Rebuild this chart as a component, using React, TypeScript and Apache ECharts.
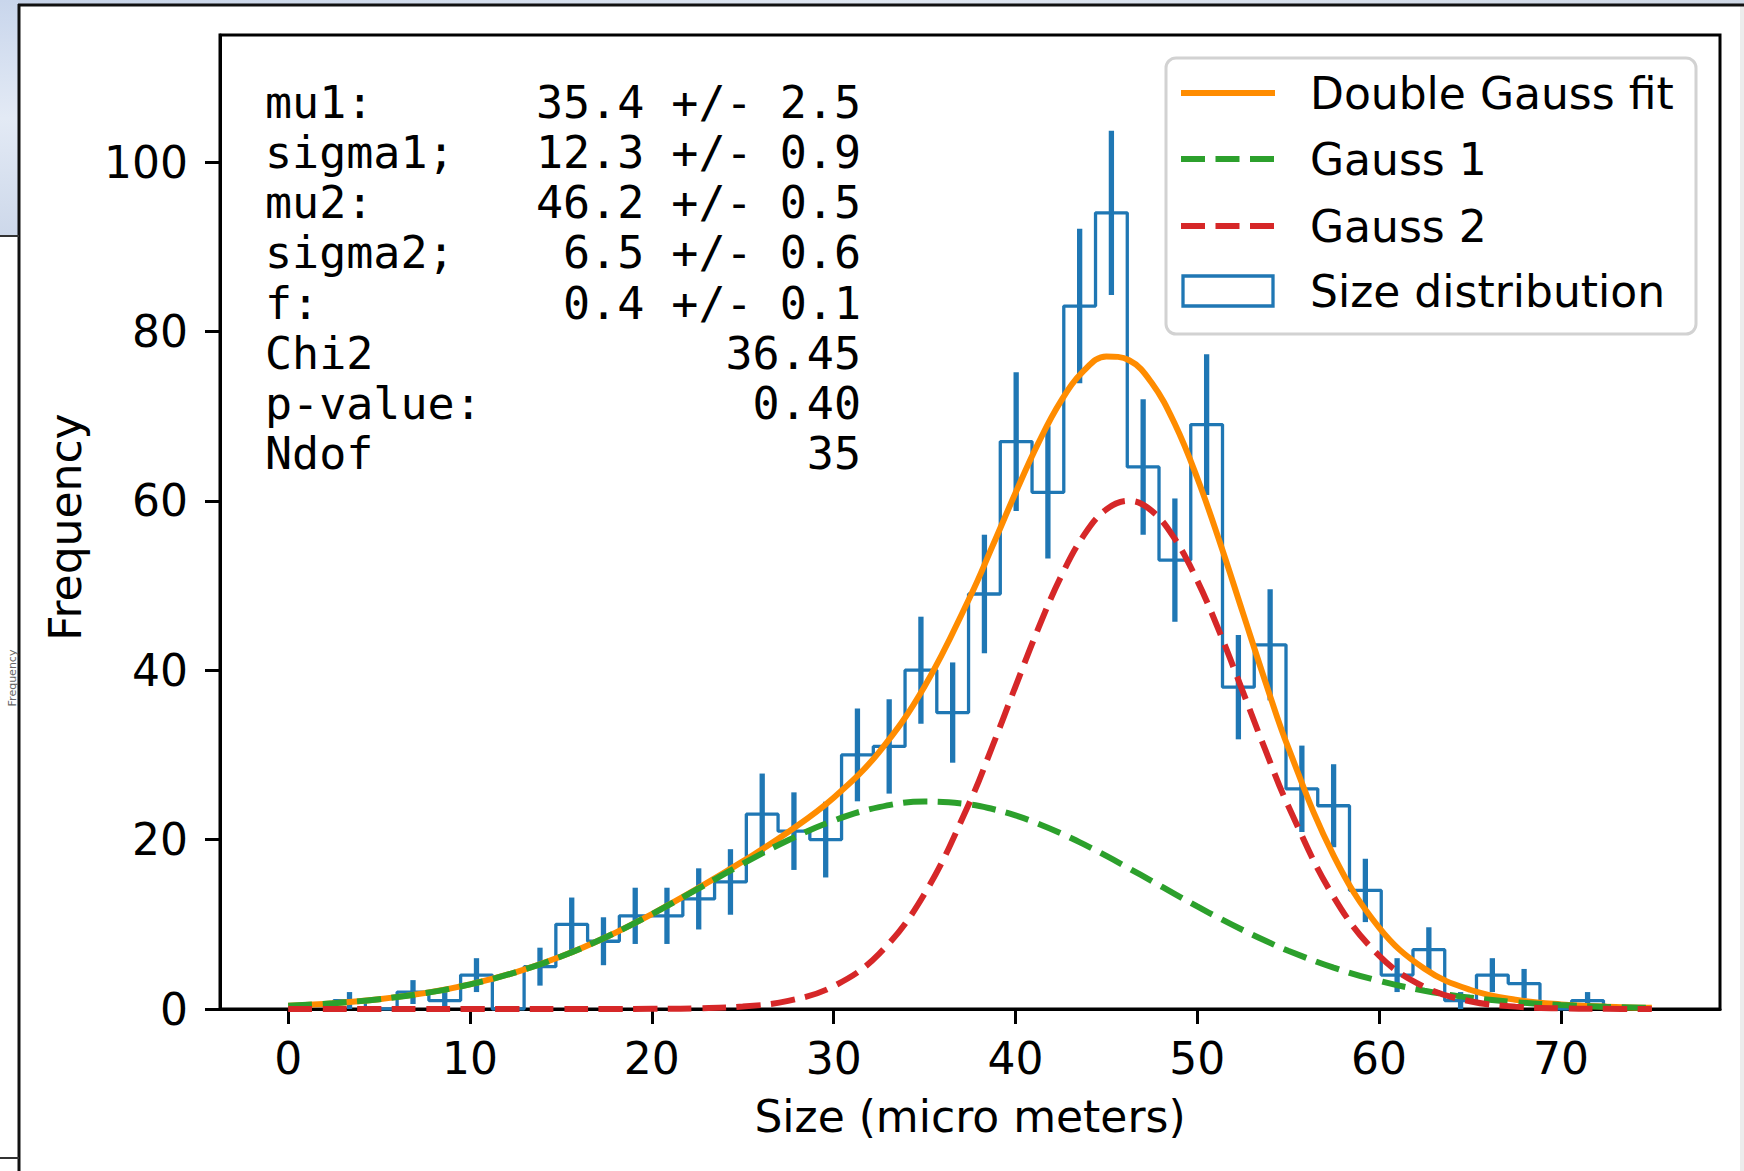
import React, { useEffect, useRef } from "react";
import * as echarts from "echarts";

// ---- Histogram (40 bins), counts and errors ----
const binLow = 2.5;
const binHigh = 72.34;
const binCounts = [1, 0, 2, 1, 4, 0, 5, 10, 8, 11, 11, 13, 15, 23, 21, 20, 30, 31, 40, 35, 49, 67, 61, 83, 94, 64, 53, 69, 38, 43, 26, 24, 14, 4, 7, 1, 4, 3, 0, 1];
const binErrors = [1, 0, 1.41, 1, 2, 0, 2.24, 3.16, 2.83, 3.32, 3.32, 3.61, 3.87, 4.8, 4.58, 4.47, 5.48, 5.57, 6.32, 5.92, 7, 8.19, 7.81, 9.11, 9.7, 8, 7.28, 8.31, 6.16, 6.56, 5.1, 4.9, 3.74, 2, 2.65, 1, 2, 1.73, 0, 1];

// ---- Fit curves, values ----
const curveX = [0, 2.5, 5, 7.5, 10, 12.5, 15, 17.5, 20, 22.5, 25, 27.5, 30, 32.5, 35, 37.5, 38.75, 40, 41.25, 42.5, 43.75, 45, 46.25, 47.5, 48.75, 50, 51.25, 52.5, 53.75, 55, 57.5, 60, 62.5, 65, 67.5, 70, 72.5, 75];
const fitTotal = [0.39, 0.69, 1.16, 1.87, 2.91, 4.33, 6.19, 8.5, 11.21, 14.21, 17.43, 20.89, 24.94, 30.34, 38.08, 48.65, 54.72, 60.92, 66.78, 71.77, 75.34, 77.05, 76.6, 73.91, 69.15, 62.69, 55.05, 46.83, 38.61, 30.88, 18.12, 9.62, 4.75, 2.27, 1.09, 0.54, 0.28, 0.14];
const gauss1 = [0.39, 0.69, 1.16, 1.87, 2.91, 4.33, 6.19, 8.5, 11.19, 14.14, 17.14, 19.93, 22.25, 23.83, 24.49, 24.15, 23.61, 22.85, 21.88, 20.74, 19.46, 18.07, 16.6, 15.1, 13.6, 12.11, 10.68, 9.32, 8.05, 6.88, 4.88, 3.32, 2.16, 1.35, 0.81, 0.47, 0.26, 0.14];
const gauss2 = [0, 0, 0, 0, 0, 0, 0, 0, 0.02, 0.08, 0.29, 0.96, 2.69, 6.51, 13.6, 24.5, 31.11, 38.07, 44.9, 51.03, 55.89, 58.99, 60, 58.81, 55.56, 50.58, 44.37, 37.51, 30.56, 24, 13.24, 6.3, 2.59, 0.92, 0.28, 0.07, 0.02, 0];

// ---- Axes ----
const xTicks = [0, 10, 20, 30, 40, 50, 60, 70];
const xMin = -3.75;
const xMax = 78.75;
const yMax = 115;
const yStep = 20;

// ---- Text box ----
const fitParams = [
  ["mu1:", "35.4", "2.5"],
  ["sigma1;", "12.3", "0.9"],
  ["mu2:", "46.2", "0.5"],
  ["sigma2;", "6.5", "0.6"],
  ["f:", "0.4", "0.1"],
];
const fitSummary = [
  ["Chi2", "36.45"],
  ["p-value:", "0.40"],
  ["Ndof", "35"],
];
const legendNames = ["Double Gauss fit", "Gauss 1", "Gauss 2", "Size distribution"];

const BLUE = "#1f77b4";
const ORANGE = "#ff8c00";
const GREEN = "#2ca02c";
const RED = "#d62728";

export default function App() {
  const ref = useRef<HTMLDivElement>(null);

  useEffect(() => {
    if (!ref.current) return;
    const chart = echarts.init(ref.current, null, { renderer: "svg", width: 1744, height: 1171 });

    const nb = binCounts.length;
    const w = (binHigh - binLow) / nb;
    const edges = binCounts.map((_, i) => binLow + i * w).concat([binHigh]);
    const stepPts: number[][] = [[edges[0], 0]];
    binCounts.forEach((c, i) => {
      stepPts.push([edges[i], c]);
      stepPts.push([edges[i + 1], c]);
    });
    stepPts.push([edges[nb], 0]);
    const errData = binCounts.map((c, i) => [edges[i] + w / 2, c - binErrors[i], c + binErrors[i]]);

    const pairs = (ys: number[]) => curveX.map((x, i) => [x, ys[i]]);

    // text box layout (monospace grid, 22 characters per line)
    const mono = "DejaVu Sans Mono";
    const monoSize = 45;
    const cw = monoSize * 0.602;
    const tx0 = 265;
    const ty0 = 102.3;
    const lh = 50.2;
    const textEls: any[] = [];
    const mt = (x: number, y: number, text: string, align: string) => ({
      type: "text",
      x,
      y,
      z: 50,
      style: { text, x: 0, y: 0, align, verticalAlign: "middle", fontFamily: mono, fontSize: monoSize, fill: "#000" },
    });
    fitParams.forEach((r, i) => {
      const y = ty0 + i * lh;
      textEls.push(mt(tx0, y, r[0], "left"));
      textEls.push(mt(tx0 + 14 * cw, y, r[1], "right"));
      textEls.push(mt(tx0 + 15 * cw, y, "+/-", "left"));
      textEls.push(mt(tx0 + 22 * cw, y, r[2], "right"));
    });
    fitSummary.forEach((r, j) => {
      const y = ty0 + (fitParams.length + j) * lh;
      textEls.push(mt(tx0, y, r[0], "left"));
      textEls.push(mt(tx0 + 22 * cw, y, r[1], "right"));
    });

    // legend
    const lgX = 1166, lgY = 58, lgW = 530, lgH = 276;
    const rows = [93, 159, 226, 291];
    const hx1 = 1181, hx2 = 1275, tX = 1310;
    const legendEls: any[] = [
      { type: "rect", z: 60, shape: { x: lgX, y: lgY, width: lgW, height: lgH, r: 10 }, style: { fill: "rgba(255,255,255,0.8)", stroke: "#d2d2d2", lineWidth: 3 } },
      { type: "line", z: 61, shape: { x1: hx1, y1: rows[0], x2: hx2, y2: rows[0] }, style: { stroke: ORANGE, lineWidth: 6 } },
      { type: "line", z: 61, shape: { x1: hx1, y1: rows[1], x2: hx2, y2: rows[1] }, style: { stroke: GREEN, lineWidth: 6, lineDash: [24, 10.5] } },
      { type: "line", z: 61, shape: { x1: hx1, y1: rows[2], x2: hx2, y2: rows[2] }, style: { stroke: RED, lineWidth: 6, lineDash: [24, 10.5] } },
      { type: "rect", z: 61, shape: { x: 1183, y: rows[3] - 15, width: 90, height: 30 }, style: { fill: "none", stroke: BLUE, lineWidth: 3.3 } },
    ];
    legendNames.forEach((n, i) => {
      legendEls.push({
        type: "text", z: 62, x: tX, y: rows[i],
        style: { text: n, x: 0, y: 0, align: "left", verticalAlign: "middle", fontFamily: "DejaVu Sans", fontSize: 44, fill: "#000" },
      });
    });

    const decor: any[] = [
      { type: "rect", z: 1, shape: { x: 0, y: 0, width: 1744, height: 5 }, style: { fill: new echarts.graphic.LinearGradient(0, 0, 1, 0, [{ offset: 0, color: "#c6d3e8" }, { offset: 0.5, color: "#dfe6f1" }, { offset: 1, color: "#cfd8e6" }]) } },
      { type: "rect", z: 1, shape: { x: 0, y: 0, width: 19, height: 236 }, style: { fill: new echarts.graphic.LinearGradient(0, 0, 0, 1, [{ offset: 0, color: "#c9d6ec" }, { offset: 0.5, color: "#e3eaf5" }, { offset: 1, color: "#cdd8ea" }]) } },
      { type: "rect", z: 1, shape: { x: 1740, y: 5, width: 4, height: 1166 }, style: { fill: "#ececec" } },
      { type: "line", z: 2, shape: { x1: 18, y1: 5, x2: 1744, y2: 5 }, style: { stroke: "#111", lineWidth: 3 } },
      { type: "line", z: 2, shape: { x1: 19, y1: 4, x2: 19, y2: 1171 }, style: { stroke: "#111", lineWidth: 3 } },
      { type: "line", z: 2, shape: { x1: 0, y1: 236, x2: 19, y2: 236 }, style: { stroke: "#333", lineWidth: 2 } },
      { type: "line", z: 2, shape: { x1: 0, y1: 1158, x2: 19, y2: 1158 }, style: { stroke: "#333", lineWidth: 2 } },
      {
        type: "text", z: 2, x: 12, y: 678, rotation: Math.PI / 2,
        style: { text: "Frequency", x: 0, y: 0, align: "center", verticalAlign: "middle", fontFamily: "DejaVu Sans", fontSize: 11, fill: "#666" },
      },
      {
        type: "text", z: 2, x: 970, y: 1116,
        style: { text: "Size (micro meters)", x: 0, y: 0, align: "center", verticalAlign: "middle", fontFamily: "DejaVu Sans", fontSize: 44, fill: "#000" },
      },
      {
        type: "text", z: 2, x: 65, y: 527, rotation: Math.PI / 2,
        style: { text: "Frequency", x: 0, y: 0, align: "center", verticalAlign: "middle", fontFamily: "DejaVu Sans", fontSize: 44, fill: "#000" },
      },
    ];

    const axisCommon = {
      axisLine: { show: true, onZero: false, lineStyle: { color: "#000", width: 3 } },
      axisTick: { show: true, inside: false, length: 15, lineStyle: { color: "#000", width: 3 } },
      splitLine: { show: false },
    };

    chart.setOption({
      animation: false,
      backgroundColor: "#fff",
      textStyle: { fontFamily: "DejaVu Sans" },
      grid: { left: 220, top: 35, width: 1500, height: 974, show: true, borderColor: "#000", borderWidth: 3, backgroundColor: "transparent", containLabel: false, outerBoundsMode: "none" },
      xAxis: {
        type: "value",
        min: xMin,
        max: xMax,
        ...axisCommon,
        axisTick: { ...axisCommon.axisTick, customValues: xTicks },
        axisLabel: { customValues: xTicks, fontSize: 44, color: "#000", margin: 27, fontFamily: "DejaVu Sans" },
      },
      yAxis: {
        type: "value",
        min: 0,
        max: yMax,
        interval: yStep,
        ...axisCommon,
        axisLabel: { fontSize: 44, color: "#000", margin: 32, fontFamily: "DejaVu Sans", showMaxLabel: false },
      },
      series: [
        {
          name: "Size distribution",
          type: "line",
          data: stepPts,
          symbol: "none",
          z: 2,
          lineStyle: { color: BLUE, width: 3.3 },
          clip: true,
        },
        {
          name: "errors",
          type: "custom",
          data: errData,
          z: 3,
          clip: true,
          encode: { x: 0, y: [1, 2] },
          renderItem: (params: any, api: any) => {
            const x = api.value(0);
            const p1 = api.coord([x, api.value(1)]);
            const p2 = api.coord([x, api.value(2)]);
            return {
              type: "line",
              shape: { x1: p1[0], y1: p1[1], x2: p2[0], y2: p2[1] },
              style: { stroke: BLUE, lineWidth: 5.3 },
            };
          },
        },
        {
          name: "Double Gauss fit",
          type: "line",
          data: pairs(fitTotal),
          symbol: "none",
          smooth: 0.4,
          smoothConstraint: false,
          z: 4,
          lineStyle: { color: ORANGE, width: 6 },
        },
        {
          name: "Gauss 1",
          type: "line",
          data: pairs(gauss1),
          symbol: "none",
          smooth: 0.4,
          smoothConstraint: false,
          z: 5,
          lineStyle: { color: GREEN, width: 6, type: [24, 10.5] },
        },
        {
          name: "Gauss 2",
          type: "line",
          data: pairs(gauss2),
          symbol: "none",
          smooth: 0.4,
          smoothConstraint: false,
          z: 6,
          lineStyle: { color: RED, width: 6, type: [24, 10.5] },
        },
      ],
      graphic: { elements: [...decor, ...textEls, ...legendEls] },
    });

    return () => chart.dispose();
  }, []);

  return (
    <div
      ref={ref}
      style={{ position: "absolute", left: 0, top: 0, width: 1744, height: 1171, background: "#fff" }}
    />
  );
}
